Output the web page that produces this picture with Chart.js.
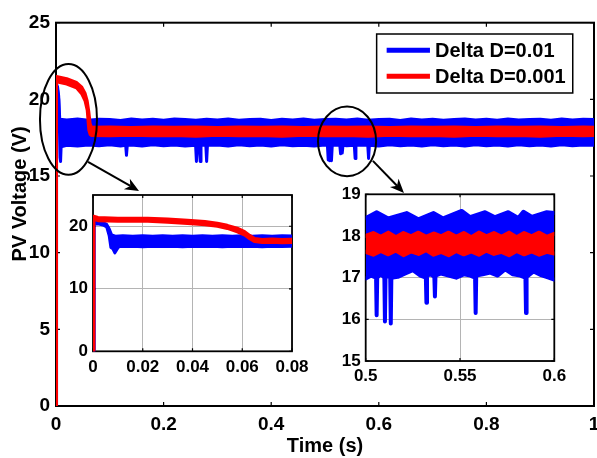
<!DOCTYPE html>
<html><head><meta charset="utf-8">
<script src="https://cdn.jsdelivr.net/npm/chart.js@4.4.1/dist/chart.umd.min.js"></script>
<style>
html,body{margin:0;padding:0;background:#fff;}
#wrap{position:relative;width:597px;height:458px;overflow:hidden;background:#fff;}
#wrap canvas{position:absolute;left:0;top:0;}
</style></head><body>
<div id="wrap">
<canvas id="main" width="597" height="458"></canvas>
<canvas id="in1" width="597" height="458"></canvas>
<canvas id="in2" width="597" height="458"></canvas>
</div>
<script>
// ---------- labels ----------
const seriesNames = ['Delta D=0.01', 'Delta D=0.001'];
const xTitle = 'Time (s)';
const yTitle = 'PV Voltage (V)';

// ---------- tick values ----------
const mainXTicks = [0, 0.2, 0.4, 0.6, 0.8, 1];
const mainYTicks = [0, 5, 10, 15, 20, 25];
const inset1XTicks = [0, 0.02, 0.04, 0.06, 0.08];
const inset1YTicks = [0, 10, 20];
const inset2XTicks = [0.5, 0.55, 0.6];
const inset2YTicks = [15, 16, 17, 18, 19];

// ---------- main plot: envelopes [time, volts] ----------
const mainBlueUpper = [[0,0],[0.001,21.0],[0.003,20.8],[0.005,20.2],[0.007,18.7],
[0.02,18.66],[0.04,18.72],[0.06,18.64],[0.08,18.70],[0.10,18.68],[0.12,18.62],[0.14,18.72],[0.16,18.66],[0.18,18.70],[0.20,18.64],
[0.22,18.72],[0.24,18.68],[0.26,18.64],[0.28,18.70],[0.30,18.66],[0.32,18.72],[0.34,18.64],[0.36,18.68],[0.38,18.70],[0.40,18.62],
[0.42,18.70],[0.44,18.66],[0.46,18.72],[0.48,18.64],[0.50,18.68],[0.52,18.70],[0.54,18.66],[0.56,18.72],[0.58,18.64],[0.60,18.68],
[0.62,18.70],[0.64,18.62],[0.66,18.72],[0.68,18.66],[0.70,18.70],[0.72,18.64],[0.74,18.68],[0.76,18.72],[0.78,18.66],[0.80,18.70],
[0.82,18.64],[0.84,18.72],[0.86,18.66],[0.88,18.68],[0.90,18.70],[0.92,18.64],[0.94,18.72],[0.96,18.66],[0.98,18.70],[1.0,18.68]];
const mainBlueLower = [[0,0],[0.001,20.8],[0.003,20.6],[0.005,20.0],[0.0065,18.0],[0.0075,16.2],[0.0085,15.95],[0.0095,16.9],
[0.02,17.0],[0.04,16.96],[0.06,17.02],[0.08,16.98],[0.10,17.04],[0.12,16.96],
[0.1295,17.0],[0.131,16.35],[0.1325,17.0],
[0.14,17.02],[0.16,16.96],[0.18,17.04],[0.20,16.98],[0.22,17.02],[0.24,16.96],
[0.2595,17.0],[0.261,15.95],[0.2625,17.0],[0.2665,17.0],[0.268,15.95],[0.2695,17.0],[0.2785,17.0],[0.280,15.95],[0.2815,17.0],
[0.30,17.02],[0.32,16.96],[0.34,17.04],[0.36,16.98],[0.38,17.02],[0.40,16.96],[0.42,17.04],[0.44,16.98],[0.46,17.0],[0.48,16.96],[0.50,17.02],
[0.5045,17.0],[0.506,16.05],[0.5075,17.0],[0.509,16.0],[0.5105,17.0],[0.512,16.0],[0.5135,17.0],
[0.52,17.02],[0.5275,17.0],[0.529,16.45],[0.5305,17.0],[0.532,16.5],[0.5335,17.0],
[0.54,16.98],[0.5545,17.0],[0.556,16.15],[0.5575,17.0],[0.57,17.02],[0.5795,17.0],[0.581,16.15],[0.5825,17.0],
[0.60,16.96],[0.62,17.04],[0.64,16.98],[0.66,17.02],[0.68,16.96],[0.70,17.04],[0.72,16.98],[0.74,17.02],[0.76,16.96],[0.78,17.04],
[0.80,16.98],[0.82,17.02],[0.84,16.96],[0.86,17.04],[0.88,16.98],[0.90,17.02],[0.92,16.96],[0.94,17.04],[0.96,16.98],[0.98,17.02],[1.0,17.0]];
const mainRedUpper = [[0,0],[0.0008,21.5],[0.02,21.35],[0.038,21.1],[0.048,20.8],[0.054,20.4],[0.058,19.9],[0.061,19.2],[0.0635,18.4],[0.066,18.18],
[0.10,18.2],[0.14,18.16],[0.18,18.2],[0.22,18.18],[0.26,18.2],[0.30,18.16],[0.34,18.2],[0.38,18.18],[0.42,18.2],[0.46,18.16],
[0.50,18.2],[0.54,18.18],[0.58,18.2],[0.62,18.16],[0.66,18.2],[0.70,18.18],[0.74,18.2],[0.78,18.16],[0.82,18.2],[0.86,18.18],
[0.90,18.2],[0.94,18.16],[0.98,18.2],[1.0,18.18]];
const mainRedLower = [[0,0],[0.0008,21.15],[0.02,21.0],[0.038,20.75],[0.048,20.35],[0.054,19.9],[0.058,19.3],[0.061,18.0],[0.0635,17.7],[0.066,17.64],
[0.10,17.62],[0.14,17.66],[0.18,17.62],[0.22,17.64],[0.26,17.6],[0.30,17.66],[0.34,17.62],[0.38,17.64],[0.42,17.6],[0.46,17.66],
[0.50,17.62],[0.54,17.64],[0.58,17.6],[0.62,17.66],[0.66,17.62],[0.70,17.64],[0.74,17.6],[0.78,17.66],[0.82,17.62],[0.86,17.64],
[0.90,17.6],[0.94,17.66],[0.98,17.62],[1.0,17.64]];

// ---------- inset 1 (0 - 0.08 s) ----------
const in1BlueUpper = [[0,0],[0.0004,20.7],[0.002,20.8],[0.004,20.6],[0.0055,20.3],[0.0065,19.6],[0.0075,18.6],[0.009,18.4],[0.0105,18.45],[0.012,18.5],
[0.016,18.4],[0.02,18.5],[0.024,18.42],[0.028,18.5],[0.032,18.4],[0.036,18.48],[0.04,18.42],[0.044,18.5],[0.048,18.4],[0.052,18.48],
[0.056,18.42],[0.06,18.5],[0.064,18.4],[0.068,18.48],[0.072,18.42],[0.076,18.5],[0.08,18.45]];
const in1BlueLower = [[0,0],[0.0004,20.3],[0.002,20.4],[0.004,20.2],[0.0055,19.9],[0.0065,18.5],[0.0072,16.6],[0.008,16.4],[0.0088,15.75],[0.0096,16.3],[0.0105,16.8],[0.012,16.75],
[0.016,16.8],[0.02,16.72],[0.024,16.8],[0.028,16.75],[0.032,16.82],[0.036,16.72],[0.04,16.8],[0.044,16.75],[0.048,16.82],[0.052,16.72],
[0.056,16.8],[0.06,16.75],[0.064,16.82],[0.068,16.72],[0.072,16.8],[0.076,16.75],[0.08,16.8]];
const in1RedUpper = [[0,0],[0.0003,21.6],[0.002,21.4],[0.01,21.3],[0.022,21.3],[0.03,21.15],[0.038,20.95],[0.045,20.75],[0.05,20.5],[0.054,20.15],
[0.058,19.7],[0.061,19.15],[0.063,18.55],[0.065,18.05],[0.068,17.9],[0.072,17.95],[0.076,17.88],[0.08,17.92]];
const in1RedLower = [[0,0],[0.0003,21.1],[0.002,20.9],[0.01,20.8],[0.022,20.8],[0.03,20.65],[0.038,20.45],[0.045,20.25],[0.05,20.0],[0.054,19.65],
[0.058,19.1],[0.061,18.6],[0.063,18.0],[0.065,17.55],[0.068,17.4],[0.072,17.45],[0.076,17.38],[0.08,17.42]];

// ---------- inset 2 (0.5 - 0.6 s) ----------
const in2BlueUpper = [[0.5,18.43],[0.5058,18.57],[0.512,18.42],[0.5217,18.55],[0.5279,18.40],[0.5359,18.55],[0.5411,18.42],[0.5509,18.6],[0.5553,18.45],
[0.5633,18.57],[0.5686,18.45],[0.5756,18.57],[0.5809,18.43],[0.5836,18.58],[0.588,18.46],[0.596,18.57],[0.6,18.55]];
const in2BlueLower = [[0.5,16.98],[0.503,17.05],[0.5055,17.0],[0.5058,16.1],[0.5061,17.0],[0.508,17.08],[0.5099,17.0],[0.5102,15.95],[0.5105,17.0],
[0.5118,17.05],[0.513,17.0],[0.5133,15.9],[0.5136,17.0],[0.517,17.02],[0.521,17.1],[0.525,17.18],[0.529,17.05],[0.5319,17.0],[0.5322,16.4],[0.5325,17.05],
[0.5345,17.08],[0.5364,17.02],[0.5367,16.55],[0.537,17.05],[0.54,17.1],[0.544,17.05],[0.548,17.0],[0.552,17.08],[0.5555,17.05],[0.558,17.0],
[0.5583,16.15],[0.5586,17.05],[0.562,17.08],[0.566,17.12],[0.57,17.05],[0.574,17.2],[0.578,17.08],[0.582,17.05],[0.5847,17.0],[0.585,16.15],
[0.5853,17.02],[0.589,17.15],[0.593,17.06],[0.597,17.0],[0.6,16.95]];
const in2RedUpper = [[0.5,18.0],[0.504,18.07],[0.508,17.98],[0.512,18.08],[0.516,17.97],[0.52,18.07],[0.524,17.99],[0.528,18.08],[0.532,17.98],[0.536,18.06],
[0.54,17.99],[0.544,18.08],[0.548,17.98],[0.552,18.07],[0.556,17.97],[0.56,18.08],[0.564,17.99],[0.568,18.07],[0.572,17.98],[0.576,18.08],
[0.58,17.97],[0.584,18.07],[0.588,17.99],[0.592,18.08],[0.596,17.98],[0.6,18.05]];
const in2RedLower = [[0.5,17.62],[0.504,17.55],[0.508,17.64],[0.512,17.56],[0.516,17.65],[0.52,17.54],[0.524,17.63],[0.528,17.57],[0.532,17.66],[0.536,17.55],
[0.54,17.62],[0.544,17.54],[0.548,17.64],[0.552,17.56],[0.556,17.63],[0.56,17.55],[0.564,17.65],[0.568,17.57],[0.572,17.62],[0.576,17.54],
[0.58,17.64],[0.584,17.56],[0.588,17.63],[0.592,17.55],[0.596,17.62],[0.6,17.58]];

// ---------- annotations (data units) ----------
const zoomEllipses = [{t:0.0232, v:18.69, dt:0.053, dv:3.61}, {t:0.541, v:17.26, dt:0.054, dv:2.27}];
const zoomArrows = [{t1:0.0595, v1:15.93, t2:0.1543, v2:14.03}, {t1:0.589, v1:15.99, t2:0.6468, v2:13.9}];

// ---------- styling / helpers ----------
const FONT = "'Liberation Sans', Arial, Helvetica, sans-serif";
Chart.defaults.font.family = FONT;
Chart.defaults.font.weight = 'bold';
Chart.defaults.color = '#000';
const BLUE = '#0000ff', RED = '#ff0000';
const W = 597, H = 458;

const pts = a => a.map(p => ({x: p[0], y: p[1]}));
function band(upper, lower, color, label, width) {
  const base = {borderColor: color, backgroundColor: color, borderWidth: width, pointRadius: 0,
    borderJoinStyle: 'round', borderCapStyle: 'round', tension: 0};
  return [
    Object.assign({label: label, data: pts(upper), fill: '+1'}, base),
    Object.assign({label: '', data: pts(lower), fill: false}, base)
  ];
}

function scales(o) {
  const setTicks = arr => s => { s.ticks = arr.map(v => ({value: v})); };
  const grid = o.grid ? {display: true, color: '#b4b4b4', lineWidth: 1, drawTicks: false}
                      : {display: false, drawTicks: false};
  return {
    x: {type: 'linear', min: o.xmin, max: o.xmax, afterBuildTicks: setTicks(o.xt),
        afterFit: s => { s.height = o.xH; s.paddingLeft = 0; s.paddingRight = 0; s.paddingTop = 0; s.paddingBottom = 0; },
        ticks: {font: {size: o.fs, weight: 'bold'}, color: '#000', padding: o.xpad, maxRotation: 0, minRotation: 0,
                autoSkip: false, callback: v => String(v)},
        grid: grid, border: {display: false},
        title: o.xTitle ? {display: true, text: o.xTitle, font: {size: 20, weight: 'bold'}, color: '#000', padding: {top: 0, bottom: 0}} : {display: false}},
    y: {type: 'linear', min: o.ymin, max: o.ymax, afterBuildTicks: setTicks(o.yt),
        afterFit: s => { s.width = o.yW; s.paddingLeft = 0; s.paddingRight = 0; s.paddingTop = 0; s.paddingBottom = 0; },
        ticks: {font: {size: o.fs, weight: 'bold'}, color: '#000', padding: o.ypad, autoSkip: false, callback: v => String(v)},
        grid: grid, border: {display: false},
        title: o.yTitle ? {display: false, text: o.yTitle} : {display: false}}
  };
}

const framePlugin = {
  id: 'frame',
  beforeDraw(chart, args, opts) {
    if (!opts.bg) return;
    const a = chart.chartArea, c = chart.ctx;
    c.save(); c.fillStyle = '#fff'; c.fillRect(a.left, a.top, a.right - a.left, a.bottom - a.top); c.restore();
  },
  beforeDatasetsDraw(chart, args, opts) {
    const a = chart.chartArea, c = chart.ctx, xs = chart.scales.x, ys = chart.scales.y, L = opts.tick;
    c.save(); c.strokeStyle = '#000'; c.lineWidth = opts.lw;
    c.strokeRect(a.left, a.top, a.right - a.left, a.bottom - a.top);
    c.lineWidth = 1.2;
    c.beginPath();
    xs.ticks.forEach(t => { const p = xs.getPixelForValue(t.value);
      c.moveTo(p, a.bottom); c.lineTo(p, a.bottom - L); c.moveTo(p, a.top); c.lineTo(p, a.top + L); });
    ys.ticks.forEach(t => { const p = ys.getPixelForValue(t.value);
      c.moveTo(a.left, p); c.lineTo(a.left + L, p); c.moveTo(a.right, p); c.lineTo(a.right - L, p); });
    c.stroke(); c.restore();
  }
};

const decoPlugin = {
  id: 'deco',
  afterDatasetsDraw(chart) {
    const c = chart.ctx, xs = chart.scales.x, ys = chart.scales.y, a = chart.chartArea;
    c.save();
    c.strokeStyle = '#000'; c.fillStyle = '#000'; c.lineWidth = 2;
    zoomEllipses.forEach(e => {
      const cx = xs.getPixelForValue(e.t), cy = ys.getPixelForValue(e.v);
      const rx = xs.getPixelForValue(e.t + e.dt) - cx, ry = cy - ys.getPixelForValue(e.v + e.dv);
      c.beginPath(); c.ellipse(cx, cy, rx, ry, 0, 0, Math.PI * 2); c.stroke();
    });
    zoomArrows.forEach(r => {
      const x1 = xs.getPixelForValue(r.t1), y1 = ys.getPixelForValue(r.v1);
      const x2 = xs.getPixelForValue(r.t2), y2 = ys.getPixelForValue(r.v2);
      const d = Math.hypot(x2 - x1, y2 - y1), ux = (x2 - x1) / d, uy = (y2 - y1) / d, nx = -uy, ny = ux;
      const Lh = 14, wh = 6, back = 4;
      c.beginPath(); c.moveTo(x1, y1); c.lineTo(x2 - ux * (Lh - back), y2 - uy * (Lh - back)); c.stroke();
      c.beginPath(); c.moveTo(x2, y2);
      c.lineTo(x2 - ux * Lh + nx * wh, y2 - uy * Lh + ny * wh);
      c.lineTo(x2 - ux * (Lh - back), y2 - uy * (Lh - back));
      c.lineTo(x2 - ux * Lh - nx * wh, y2 - uy * Lh - ny * wh);
      c.closePath(); c.fill();
    });
    // legend box
    const fx = f => a.left + f * (a.right - a.left), fy = f => a.top + f * (a.bottom - a.top);
    const bx0 = fx(0.596), bx1 = fx(0.9605), by0 = fy(0.0295), by1 = fy(0.1834);
    c.fillStyle = '#fff'; c.fillRect(bx0, by0, bx1 - bx0, by1 - by0);
    c.lineWidth = 1.5; c.strokeStyle = '#000'; c.strokeRect(bx0, by0, bx1 - bx0, by1 - by0);
    const rows = [fy(0.0722), fy(0.1400)], cols = [BLUE, RED];
    c.font = "bold 20px " + FONT; c.textBaseline = 'middle'; c.textAlign = 'left';
    seriesNames.forEach((name, i) => {
      c.strokeStyle = cols[i]; c.lineWidth = 5; c.lineCap = 'butt';
      c.beginPath(); c.moveTo(fx(0.6146), rows[i]); c.lineTo(fx(0.6951), rows[i]); c.stroke();
      c.fillStyle = '#000'; c.fillText(name, fx(0.7045), rows[i] + 1);
    });
    // y-axis title
    c.translate(25.5, 194); c.rotate(-Math.PI / 2);
    c.font = "bold 20px " + FONT; c.textAlign = 'center'; c.textBaseline = 'alphabetic'; c.fillStyle = '#000';
    c.fillText(chart.options.scales.y.title.text, 0, 0);
    c.restore();
  }
};

function makeChart(id, datasets, o, box, plugins, frameOpts) {
  return new Chart(document.getElementById(id), {
    type: 'line',
    data: {datasets: datasets},
    options: {
      responsive: false, maintainAspectRatio: false, devicePixelRatio: 1, animation: false, events: [],
      layout: {padding: {left: box.L - o.yW, top: box.T, right: W - box.R, bottom: H - box.B - o.xH}},
      scales: scales(o),
      plugins: {legend: {display: false}, tooltip: {enabled: false}, frame: frameOpts}
    },
    plugins: plugins
  });
}

// main chart
makeChart('main',
  band(mainRedUpper, mainRedLower, RED, seriesNames[1], 3).concat(band(mainBlueUpper, mainBlueLower, BLUE, seriesNames[0], 3)),
  {xmin: 0, xmax: 1, ymin: 0, ymax: 25, xt: mainXTicks, yt: mainYTicks, fs: 19, xpad: 7, ypad: 6, yW: 56, xH: 52,
   grid: false, xTitle: xTitle, yTitle: yTitle},
  {L: 56, T: 22.7, R: 594, B: 406}, [framePlugin, decoPlugin], {bg: false, tick: 4, lw: 2});

// inset 1
makeChart('in1',
  band(in1RedUpper, in1RedLower, RED, seriesNames[1], 3).concat(band(in1BlueUpper, in1BlueLower, BLUE, seriesNames[0], 3)),
  {xmin: 0, xmax: 0.08, ymin: 0, ymax: 25, xt: inset1XTicks, yt: inset1YTicks, fs: 17, xpad: 6, ypad: 5, yW: 40, xH: 30, grid: true},
  {L: 93, T: 195, R: 292, B: 351.3}, [framePlugin], {bg: true, tick: 3, lw: 1.8});

// inset 2
makeChart('in2',
  band(in2RedUpper, in2RedLower, RED, seriesNames[1], 4).concat(band(in2BlueUpper, in2BlueLower, BLUE, seriesNames[0], 4)),
  {xmin: 0.5, xmax: 0.6, ymin: 15, ymax: 19, xt: inset2XTicks, yt: inset2YTicks, fs: 17, xpad: 5, ypad: 5, yW: 40, xH: 30, grid: true},
  {L: 365.7, T: 194.3, R: 554.3, B: 361}, [framePlugin], {bg: true, tick: 3, lw: 1.8});
</script>
</body></html>
